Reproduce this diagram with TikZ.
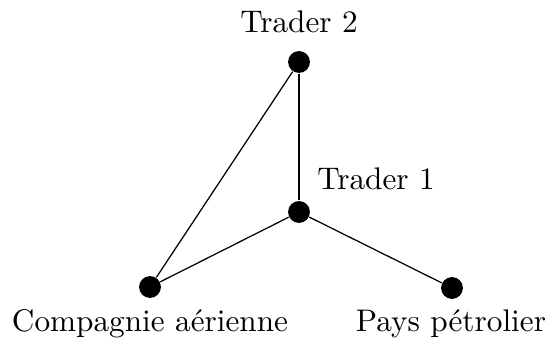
\documentclass[tikz,border=0pt]{standalone}
\begin{document}
\begin{tikzpicture}[x=0.32pt,y=-0.32pt,
  dot/.style={circle,fill=black,inner sep=0pt,minimum size=7pt},
  lbl/.style={inner sep=0pt,anchor=base,font=\normalsize},
  edge/.style={line width=0.4pt}]
\useasboundingbox (0,0) rectangle (546,341);
\node[dot] (t2) at (299,62) {};
\node[dot] (t1) at (299,212) {};
\node[dot] (ca) at (150,287) {};
\node[dot] (pp) at (452,288) {};
\node[lbl] (lt2) at (299,33) {Trader 2};
\node[lbl] (lt1) at (376,190) {Trader 1};
\node[lbl] (lca) at (150,332) {Compagnie aérienne};
\node[lbl] (lpp) at (451,332) {Pays pétrolier};
\draw[edge] (t2) -- (t1);
\draw[edge] (t1) -- (ca);
\draw[edge] (t1) -- (pp);
\draw[edge] (t2) -- (ca);
\end{tikzpicture}
\end{document}
